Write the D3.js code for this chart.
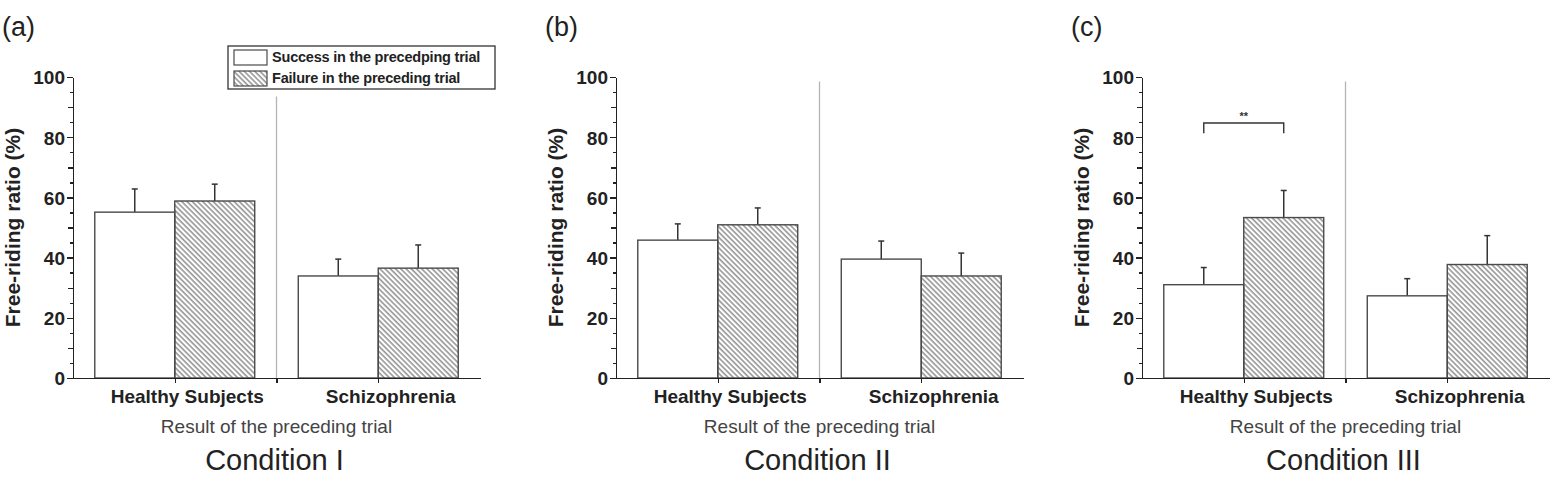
<!DOCTYPE html>
<html lang="en">
  <head>
    <meta charset="utf-8">
    <title>Free-riding ratio by preceding trial</title>
    <script src="https://cdn.jsdelivr.net/npm/d3@7"></script>
    <style>
      body { margin: 0; background: #fff; }
      svg { display: block; font-family: "Liberation Sans", Arial, sans-serif; }
      .axis path, .axis line { stroke: #222; stroke-width: 1.4; shape-rendering: crispEdges; }
      .axis text { font-weight: bold; font-size: 19px; fill: #222; }
    </style>
  </head>
  <body>
    <script>

    // Data
    var panelLabels = ["(a)", "(b)", "(c)"];
    var conditions = ["Condition I", "Condition II", "Condition III"];
    var groups = ["Healthy Subjects", "Schizophrenia"];
    var seriesNames = ["Success in the precedping trial", "Failure in the preceding trial"];
    var successMean = [[55.1, 33.9], [45.8, 39.5], [31.0, 27.3]];
    var successErr  = [[7.7, 5.6],   [5.4, 6.0],   [5.7, 5.7]];
    var failureMean = [[58.8, 36.5], [50.9, 33.9], [53.3, 37.7]];
    var failureErr  = [[5.6, 7.7],   [5.6, 7.6],   [9.0, 9.6]];
    var yTicks = [0, 20, 40, 60, 80, 100];
    var dividerTop = [93.5, 98.5, 98.5];   // where the grey separator starts (data units)
    var sigBracket = [null, null, {group: 0, y: 84.7, drop: 3.4, text: "**"}];

    //Layout
    var w = 1553, h = 477;
    var panelX = [73, 616, 1142];
    var plotTop = 77, plotBottom = 378, plotW = 407;
    var barW = 0.393;   // in x units

    var svg = d3.select("body").append("svg")
        .attr("width", w)
        .attr("height", h);

    //Hatch pattern
    svg.append("defs").append("pattern")
        .attr("id", "hatch")
        .attr("patternUnits", "userSpaceOnUse")
        .attr("width", 3.7)
        .attr("height", 3.7)
        .attr("patternTransform", "rotate(-45)")
      .append("line")
        .attr("x1", 1).attr("y1", -2)
        .attr("x2", 1).attr("y2", 6)
        .attr("stroke", "#4d4d4d")
        .attr("stroke-width", 0.95);

    var xScale = d3.scaleLinear().domain([0.5, 2.5]).range([0, plotW]);
    var yScale = d3.scaleLinear().domain([0, 100]).range([plotBottom, plotTop]);

    panelLabels.forEach(function(lab, p) {
      var g = svg.append("g").attr("transform", "translate(" + panelX[p] + ",0)");

      //Panel letter
      g.append("text")
        .attr("x", -71).attr("y", 36)
        .attr("font-size", 27).attr("fill", "#222")
        .text(lab);

      //Separator between groups
      g.append("line")
        .attr("x1", xScale(1.5)).attr("x2", xScale(1.5))
        .attr("y1", yScale(dividerTop[p])).attr("y2", yScale(0))
        .attr("stroke", "#b5b5b5").attr("stroke-width", 1.3);

      //Bars
      groups.forEach(function(gr, i) {
        var cx = xScale(i + 1);
        var bw = xScale(1 + barW) - xScale(1);
        var sets = [
          {m: successMean[p][i], e: successErr[p][i], x0: cx - bw, fill: "#fff"},
          {m: failureMean[p][i], e: failureErr[p][i], x0: cx, fill: "url(#hatch)"}
        ];
        sets.forEach(function(s) {
          var mid = s.x0 + bw / 2;
          g.append("line")
            .attr("x1", mid).attr("x2", mid)
            .attr("y1", yScale(s.m)).attr("y2", yScale(s.m + s.e))
            .attr("stroke", "#333").attr("stroke-width", 1.5);
          g.append("line")
            .attr("x1", mid - 3).attr("x2", mid + 3)
            .attr("y1", yScale(s.m + s.e)).attr("y2", yScale(s.m + s.e))
            .attr("stroke", "#333").attr("stroke-width", 1.5);
          g.append("rect")
            .attr("x", s.x0).attr("y", yScale(s.m))
            .attr("width", bw).attr("height", yScale(0) - yScale(s.m))
            .attr("fill", s.fill)
            .attr("stroke", "#4a4a4a").attr("stroke-width", 1.4);
        });
      });

      //Significance bracket
      var sb = sigBracket[p];
      if (sb) {
        var bw2 = xScale(1 + barW) - xScale(1);
        var c = xScale(sb.group + 1);
        var xl = c - bw2 / 2, xr = c + bw2 / 2;
        g.append("path")
          .attr("d", "M" + xl + "," + yScale(sb.y - sb.drop) + "V" + yScale(sb.y) +
                     "H" + xr + "V" + yScale(sb.y - sb.drop))
          .attr("fill", "none").attr("stroke", "#333").attr("stroke-width", 1.4);
        g.append("text")
          .attr("x", (xl + xr) / 2).attr("y", yScale(sb.y) - 3)
          .attr("text-anchor", "middle").attr("font-size", 11).attr("font-weight", "bold")
          .attr("fill", "#333")
          .text(sb.text);
      }

      //Y axis major + minor
      g.append("g")
        .attr("class", "axis")
        .call(d3.axisLeft(yScale).tickValues(d3.range(5, 100, 10)).tickSize(3).tickFormat(""))
        .call(function(a) { a.select(".domain").remove(); });
      g.append("g")
        .attr("class", "axis")
        .call(d3.axisLeft(yScale).tickValues(d3.range(10, 100, 20)).tickSize(5).tickFormat(""))
        .call(function(a) { a.select(".domain").remove(); });
      g.append("g")
        .attr("class", "axis")
        .call(d3.axisLeft(yScale).tickValues(yTicks).tickSize(6).tickSizeOuter(0).tickPadding(2))
        .selectAll("text").attr("dy", "0.36em");

      //X axis
      var xa = g.append("g")
        .attr("class", "axis")
        .attr("transform", "translate(0," + plotBottom + ")")
        .call(d3.axisBottom(xScale).tickValues([1, 1.5, 2]).tickSize(5).tickSizeOuter(0)
              .tickFormat(function(d) { return d === 1.5 ? "" : groups[d - 1]; }));
      xa.selectAll("text")
        .attr("font-size", 17.5)
        .attr("dx", 12)
        .attr("y", 12);

      //Axis titles
      g.append("text")
        .attr("transform", "translate(-53," + ((plotTop + plotBottom) / 2) + ") rotate(-90)")
        .attr("text-anchor", "middle")
        .attr("font-size", 21).attr("font-weight", "bold").attr("fill", "#222")
        .text("Free-riding ratio (%)");

      g.append("text")
        .attr("x", xScale(1.5)).attr("y", 433)
        .attr("text-anchor", "middle")
        .attr("font-size", 19).attr("fill", "#444")
        .text("Result of the preceding trial");

      g.append("text")
        .attr("x", xScale(1.5) - 2).attr("y", 470)
        .attr("text-anchor", "middle")
        .attr("font-size", 29).attr("fill", "#222")
        .text(conditions[p]);

      //Legend (first panel only)
      if (p === 0) {
        var lg = g.append("g").attr("transform", "translate(155,46)");
        lg.append("rect")
          .attr("width", 267).attr("height", 43)
          .attr("fill", "#fff").attr("stroke", "#333").attr("stroke-width", 1.3);
        seriesNames.forEach(function(s, k) {
          lg.append("rect")
            .attr("x", 6).attr("y", 4 + k * 21)
            .attr("width", 33).attr("height", 15)
            .attr("fill", k === 0 ? "#fff" : "url(#hatch)")
            .attr("stroke", "#4a4a4a").attr("stroke-width", 1.2);
          lg.append("text")
            .attr("x", 44).attr("y", 16 + k * 21)
            .attr("font-size", 14.5).attr("font-weight", "bold").attr("fill", "#222")
            .attr("letter-spacing", -0.2)
            .text(s);
        });
      }
    });

    </script>
  </body>
</html>
